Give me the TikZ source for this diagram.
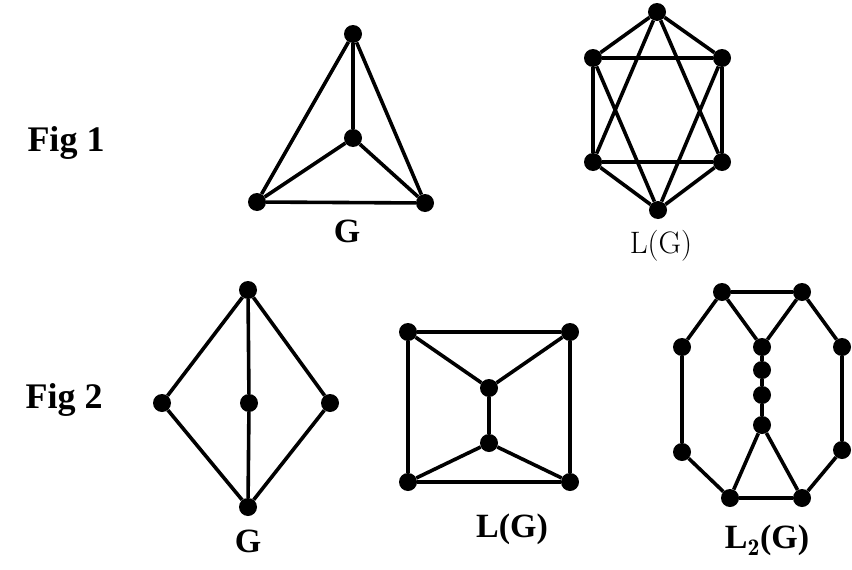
\documentclass[tikz,border=0pt]{standalone}
\usepackage{fontspec}
\newfontfamily\tnr{Liberation Serif}
\begin{document}
\begin{tikzpicture}[x=1pt,y=-1pt,
  v/.style={circle,fill=black,inner sep=0pt,minimum size=18pt},
  e/.style={line width=3.6pt},
  figlab/.style={font=\tnr\bfseries\fontsize{36}{40}\selectfont},
  lab/.style={font=\tnr\bfseries\fontsize{34}{38}\selectfont},
  labcm/.style={font=\fontsize{31}{36}\selectfont}]
\useasboundingbox (0,0) rectangle (852,570);
% labels
\node[figlab] (f1) at (66,143) {Fig 1};
\node[figlab] (f2) at (64,400) {Fig 2};
% Fig 1 G
\node[v] (a1) at (353,34) {};
\node[v] (a2) at (353,138) {};
\node[v] (a3) at (257,202) {};
\node[v] (a4) at (425,203) {};
\draw[e] (a1)--(a2) (a1)--(a3) (a1)--(a4) (a2)--(a3) (a2)--(a4) (a3)--(a4);
\node[lab] (g1) at (347,231) {G};
% Fig 1 L(G)
\node[v] (b1) at (657,12) {};
\node[v] (b2) at (593,58) {};
\node[v] (b3) at (722,58) {};
\node[v] (b4) at (593,162) {};
\node[v] (b5) at (722,162) {};
\node[v] (b6) at (658,210) {};
\draw[e] (b1)--(b2) (b1)--(b3) (b1)--(b4) (b1)--(b5)
  (b2)--(b3) (b2)--(b4) (b2)--(b6) (b3)--(b5) (b3)--(b6)
  (b4)--(b5) (b4)--(b6) (b5)--(b6);
\node[labcm] (g2) at (661,246) {L(G)};
% Fig 2 G
\node[v] (c1) at (248,290) {};
\node[v] (c2) at (162,403) {};
\node[v] (c3) at (249,403) {};
\node[v] (c4) at (330,403) {};
\node[v] (c5) at (248,507) {};
\draw[e] (c1)--(c2) (c1)--(c3) (c1)--(c4) (c2)--(c5) (c3)--(c5) (c4)--(c5);
\node[lab] (g3) at (248,541) {G};
% Fig 2 L(G)
\node[v] (d1) at (408,332) {};
\node[v] (d2) at (570,332) {};
\node[v] (d3) at (489,388) {};
\node[v] (d4) at (489,443) {};
\node[v] (d5) at (408,482) {};
\node[v] (d6) at (570,482) {};
\draw[e] (d1)--(d2) (d1)--(d5) (d2)--(d6) (d5)--(d6)
  (d1)--(d3) (d2)--(d3) (d3)--(d4) (d4)--(d5) (d4)--(d6);
\node[lab] (g4) at (512,529) {L(G)};
% Fig 2 L2(G)
\node[v] (h1) at (722,292) {};
\node[v] (h2) at (802,292) {};
\node[v] (h3) at (682,347) {};
\node[v] (h4) at (762,347) {};
\node[v] (h5) at (842,347) {};
\node[v] (h6) at (762,370) {};
\node[v] (h7) at (762,395) {};
\node[v] (h8) at (762,425) {};
\node[v] (h9) at (682,452) {};
\node[v] (h10) at (842,450) {};
\node[v] (h11) at (730,498) {};
\node[v] (h12) at (802,498) {};
\draw[e] (h1)--(h2) (h1)--(h3) (h2)--(h5) (h1)--(h4) (h2)--(h4)
  (h3)--(h9) (h5)--(h10) (h9)--(h11) (h10)--(h12) (h11)--(h12)
  (h4)--(h6) (h6)--(h7) (h7)--(h8) (h8)--(h11) (h8)--(h12);
\node[lab] (g5) at (767,540) {L$_{\mathbf{2}}$(G)};
\end{tikzpicture}
\end{document}
